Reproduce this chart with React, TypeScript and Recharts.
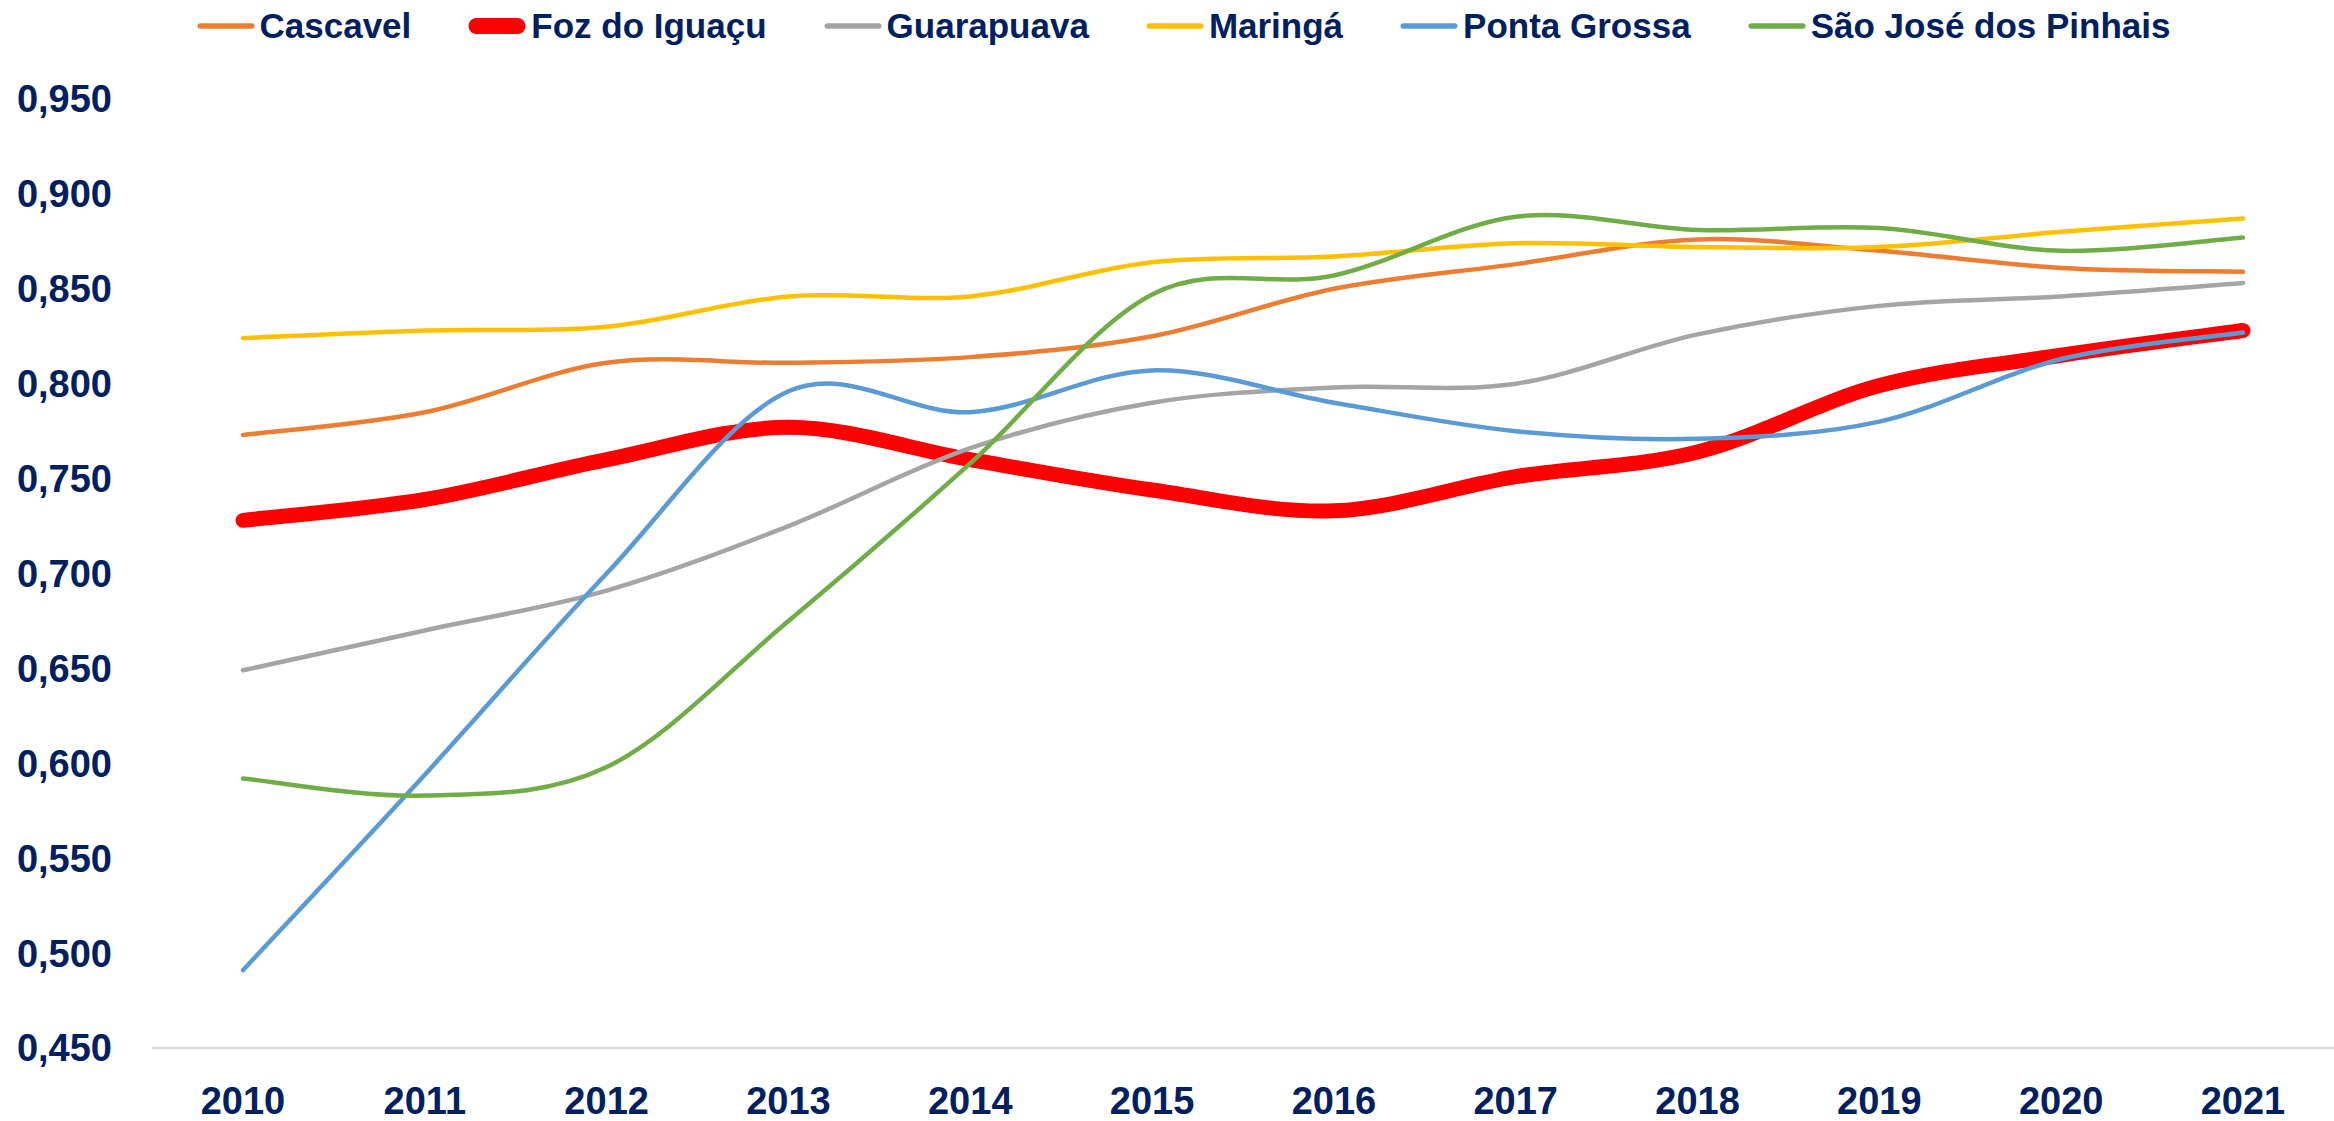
import React from 'react';
import { LineChart, Line, XAxis, YAxis, Legend } from 'recharts';

const years = ['2010', '2011', '2012', '2013', '2014', '2015', '2016', '2017', '2018', '2019', '2020', '2021'];
const cascavel = [0.773, 0.785, 0.811, 0.811, 0.814, 0.825, 0.850, 0.863, 0.876, 0.870, 0.861, 0.859];
const fozDoIguacu = [0.728, 0.739, 0.760, 0.777, 0.760, 0.744, 0.733, 0.751, 0.764, 0.799, 0.815, 0.828];
const guarapuava = [0.649, 0.670, 0.691, 0.725, 0.766, 0.790, 0.798, 0.800, 0.826, 0.841, 0.846, 0.853];
const maringa = [0.824, 0.828, 0.830, 0.846, 0.846, 0.864, 0.867, 0.874, 0.872, 0.872, 0.880, 0.887];
const pontaGrossa = [0.491, 0.594, 0.700, 0.796, 0.785, 0.807, 0.790, 0.775, 0.771, 0.780, 0.813, 0.827];
const saoJose = [0.592, 0.583, 0.598, 0.675, 0.758, 0.847, 0.857, 0.888, 0.881, 0.882, 0.870, 0.877];
const yTicks = [0.45, 0.5, 0.55, 0.6, 0.65, 0.7, 0.75, 0.8, 0.85, 0.9, 0.95];

const series = [
  { key: 'Cascavel', values: cascavel, color: '#ED7D31', width: 4.5 },
  { key: 'Foz do Iguaçu', values: fozDoIguacu, color: '#FF0000', width: 15 },
  { key: 'Guarapuava', values: guarapuava, color: '#A5A5A5', width: 4.5 },
  { key: 'Maringá', values: maringa, color: '#FFC000', width: 4.5 },
  { key: 'Ponta Grossa', values: pontaGrossa, color: '#5B9BD5', width: 4.5 },
  { key: 'São José dos Pinhais', values: saoJose, color: '#70AD47', width: 4.5 },
];

const data = years.map((year, i) => {
  const row: Record<string, string | number> = { year };
  series.forEach((s) => { row[s.key] = s.values[i]; });
  return row;
});

const TEXT = '#002060';
const FONT = '"Liberation Sans", Arial, sans-serif';

// smoothing like Excel's (uniform catmull-rom as bezier segments)
const excelSmooth = (context: any) => {
  let pts: number[][] = [];
  return {
    areaStart() {},
    areaEnd() {},
    lineStart() { pts = []; },
    lineEnd() {
      if (!pts.length) return;
      context.moveTo(pts[0][0], pts[0][1]);
      for (let i = 0; i < pts.length - 1; i++) {
        const p0 = pts[Math.max(i - 1, 0)];
        const p1 = pts[i];
        const p2 = pts[i + 1];
        const p3 = pts[Math.min(i + 2, pts.length - 1)];
        context.bezierCurveTo(
          p1[0] + (p2[0] - p0[0]) / 6, p1[1] + (p2[1] - p0[1]) / 6,
          p2[0] - (p3[0] - p1[0]) / 6, p2[1] - (p3[1] - p1[1]) / 6,
          p2[0], p2[1]
        );
      }
    },
    point(x: number, y: number) { pts.push([+x, +y]); },
  };
};

const LegendRow = () => (
  <div style={{ height: 99, display: 'flex', justifyContent: 'center', paddingLeft: 32, boxSizing: 'border-box' }}>
    <div style={{ height: 52, display: 'flex', alignItems: 'center', gap: 56 }}>
      {series.map((s) => (
        <div key={s.key} style={{ display: 'flex', alignItems: 'center' }}>
          <svg width={60} height={20} style={{ marginRight: 4 }}>
            <line x1={s.width / 2 + 2} y1={10} x2={58 - s.width / 2} y2={10} stroke={s.color}
              strokeWidth={s.width > 10 ? 16 : 5.5} strokeLinecap="round" />
          </svg>
          <span style={{ fontFamily: FONT, fontWeight: 700, fontSize: 35, color: TEXT, whiteSpace: 'nowrap' }}>{s.key}</span>
        </div>
      ))}
    </div>
  </div>
);

export default function App() {
  return (
    <div style={{ position: 'absolute', left: 0, top: 0, width: 2334, height: 1121, background: '#fff' }}>
      <LineChart width={2334} height={1121} data={data} margin={{ top: 0, right: 0, bottom: 0, left: 0 }}>
        <Legend verticalAlign="top" align="center" content={() => <LegendRow />} wrapperStyle={{ width: 2334, left: 0 }} />
        <XAxis
          dataKey="year"
          height={73}
          padding={{ left: 91, right: 91 }}
          axisLine={{ stroke: '#D9D9D9', strokeWidth: 2.5 }}
          tickLine={false}
          tickSize={0}
          tickMargin={39}
          tick={{ fill: TEXT, fontSize: 38, fontWeight: 700, fontFamily: FONT }}
        />
        <YAxis
          width={152}
          domain={[0.45, 0.95]}
          ticks={yTicks}
          axisLine={false}
          tickLine={false}
          tickSize={0}
          tickMargin={40}
          tickFormatter={(v: number) => v.toFixed(3).replace('.', ',')}
          tick={{ fill: TEXT, fontSize: 38, fontWeight: 700, fontFamily: FONT }}
        />
        {series.map((s) => (
          <Line
            key={s.key}
            dataKey={s.key}
            type={excelSmooth as any}
            stroke={s.color}
            strokeWidth={s.width}
            strokeLinecap="round"
            dot={false}
            activeDot={false}
            isAnimationActive={false}
          />
        ))}
      </LineChart>
    </div>
  );
}
